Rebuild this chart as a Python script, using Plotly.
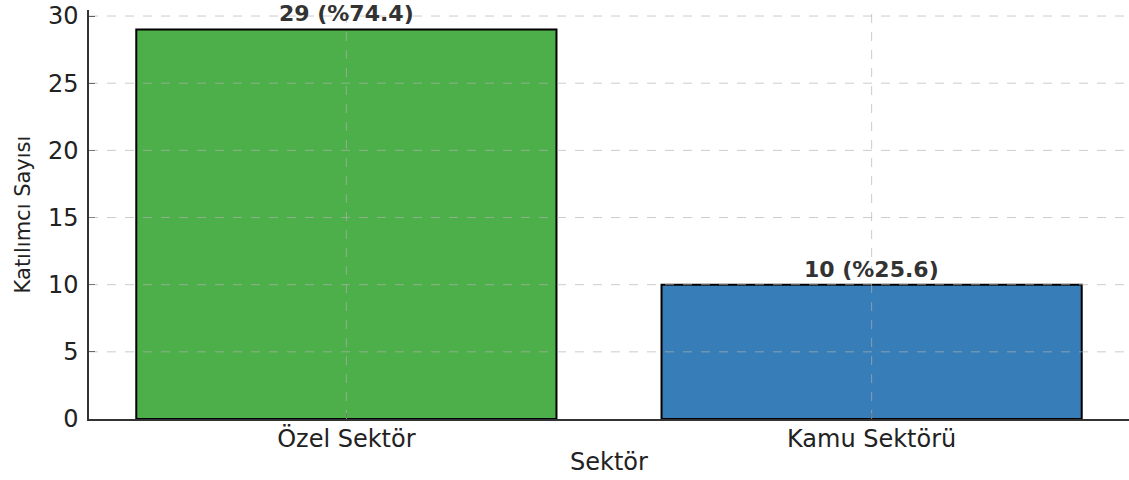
import plotly.graph_objects as go

# Veriler
sektorler = ["Özel Sektör", "Kamu Sektörü"]
katilimci = [29, 10]
renkler = ["#4daf4a", "#377eb8"]
y_ticks = [0, 5, 10, 15, 20, 25, 30]

toplam = sum(katilimci)
etiketler = [f"{v} (%{v / toplam * 100:.1f})" for v in katilimci]

FONT = "DejaVu Sans"
GRID = "rgba(176,176,176,0.65)"

fig = go.Figure()
fig.add_trace(go.Bar(
    x=sektorler,
    y=katilimci,
    width=0.8,
    marker=dict(color=renkler, line=dict(color="black", width=2)),
    hoverinfo="x+y",
))

# Çubukların üstündeki etiketler
for s, v, e in zip(sektorler, katilimci, etiketler):
    fig.add_annotation(
        x=s, y=v, text=f"<b>{e}</b>", showarrow=False,
        yanchor="bottom", yshift=1,
        font=dict(family=FONT, size=22, color="#333333"),
    )

# Izgara çizgileri çubukların üstünde
shapes = []
for t in y_ticks[1:]:
    shapes.append(dict(type="line", xref="paper", yref="y", x0=0, x1=1, y0=t, y1=t,
                       layer="above", line=dict(color=GRID, width=1, dash="dash")))
for s in sektorler:
    shapes.append(dict(type="line", xref="x", yref="paper", x0=s, x1=s, y0=0, y1=1,
                       layer="above", line=dict(color=GRID, width=1, dash="dash")))

fig.update_layout(
    width=1129, height=480,
    margin=dict(l=89, r=0, t=10, b=61),
    paper_bgcolor="white", plot_bgcolor="white",
    showlegend=False,
    shapes=shapes,
    font=dict(family=FONT, color="#222222"),
    xaxis=dict(
        range=[-0.49, 1.49],
        showgrid=False, zeroline=False,
        showline=True, linecolor="#333333", linewidth=1.5,
        ticks="inside", ticklen=6, tickcolor="#333333",
        tickfont=dict(size=24),
        ticklabelstandoff=-3,
        title=dict(text="Sektör", font=dict(size=24), standoff=2),
    ),
    yaxis=dict(
        range=[0, 30.45],
        tickvals=y_ticks,
        showgrid=False, zeroline=False,
        showline=True, linecolor="#333333", linewidth=1.5,
        ticks="inside", ticklen=6, tickcolor="#333333",
        tickfont=dict(size=24),
        ticklabelstandoff=4,
        title=dict(text="Katılımcı Sayısı", font=dict(size=21), standoff=12),
    ),
)

# sayfa kenar boşluğunu kaldır
fig.write_html("out.html", config={"displayModeBar": False},
               post_script="document.body.style.margin='0';")
